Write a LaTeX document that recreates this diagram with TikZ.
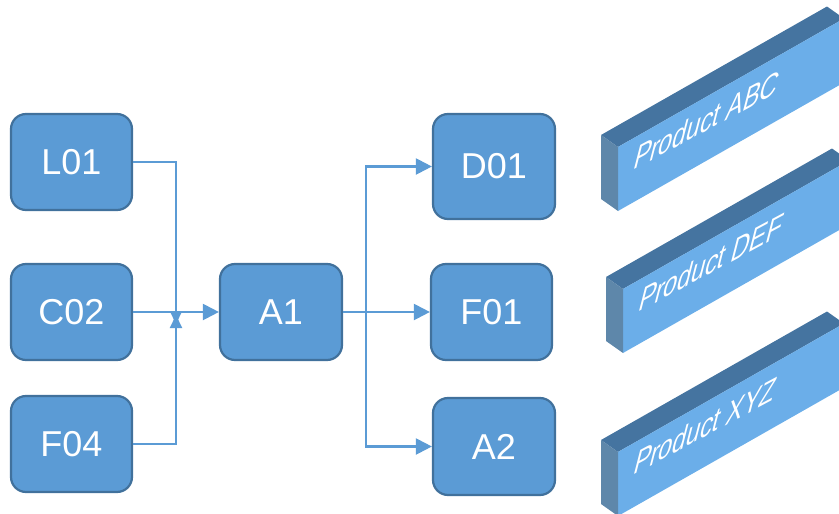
\documentclass[tikz,border=0pt]{standalone}
\usepackage{fontspec}
\setmainfont{Liberation Sans}
\usetikzlibrary{arrows.meta}
\definecolor{boxfill}{HTML}{5B9BD5}
\definecolor{boxdraw}{HTML}{41719C}
\definecolor{barfront}{HTML}{6BAEE9}
\definecolor{bartop}{HTML}{4574A0}
\definecolor{barend}{HTML}{5E87AA}
\begin{document}
\begin{tikzpicture}[x=1pt,y=-1pt,
  box/.style={draw=boxdraw, fill=boxfill, line width=2.2pt, rounded corners=15pt,
    text=white, font=\fontsize{36}{43}\selectfont, inner sep=0pt},
  conn/.style={draw=boxfill, line width=2.2pt},
  arr/.style={conn, -{Triangle[length=16pt,width=16pt]}},
  sarr/.style={conn, -{Triangle[length=13pt,width=12pt]}},
  bartext/.style={text=white, font=\fontsize{36}{43}\selectfont,
    anchor=base west, inner sep=0pt, transform shape}
]
\useasboundingbox (0,0) rectangle (839,514);
\begin{scope}
\clip (0,0) rectangle (839,514);
\foreach \bx/\by/\lab in {601/135/ABC, 606/277/DEF, 601/440/XYZ} {
  \fill[bartop] (\bx,\by) -- ++(226,-128.5) -- ++(17,12) -- ++(-226,128.5) -- cycle;
  \fill[barfront] (\bx+17,\by+12) -- ++(226,-128.5) -- ++(0,64) -- ++(-226,128.5) -- cycle;
  \fill[barend] (\bx,\by) -- ++(17,12) -- ++(0,64) -- ++(-17,-12) -- cycle;
  \begin{scope}[shift={(\bx+31,\by+36)}]
    \node[bartext, cm={0.69,0.37,0.25,0.97,(0,0)}] (p\lab) at (0,0) {Product \lab};
  \end{scope}
}
\end{scope}

\node[box, minimum width=121pt, minimum height=96pt] (L01) at (71.5,162) {L01};
\node[box, minimum width=121pt, minimum height=96pt] (C02) at (71.5,312) {C02};
\node[box, minimum width=121pt, minimum height=96pt] (F04) at (71.5,444) {F04};
\node[box, minimum width=122pt, minimum height=96pt] (A1) at (281,312) {A1};
\node[box, minimum width=122pt, minimum height=105pt] (D01) at (494,166.5) {D01};
\node[box, minimum width=121pt, minimum height=96pt] (F01) at (491.5,312) {F01};
\node[box, minimum width=122pt, minimum height=97pt] (A2) at (494,446.5) {A2};

\coordinate (Jd) at (176,324);
\coordinate (Ju) at (176,315);
\coordinate (K) at (366,312);

\draw[sarr] (L01.east) -| (Jd);
\draw[sarr] (F04.east) -| (Ju);
\draw[arr] (C02) -- (A1);
\draw[arr] (A1) -- (F01);
\draw[arr] (K) |- (D01);
\draw[arr] (K) |- (A2);
\end{tikzpicture}
\end{document}
